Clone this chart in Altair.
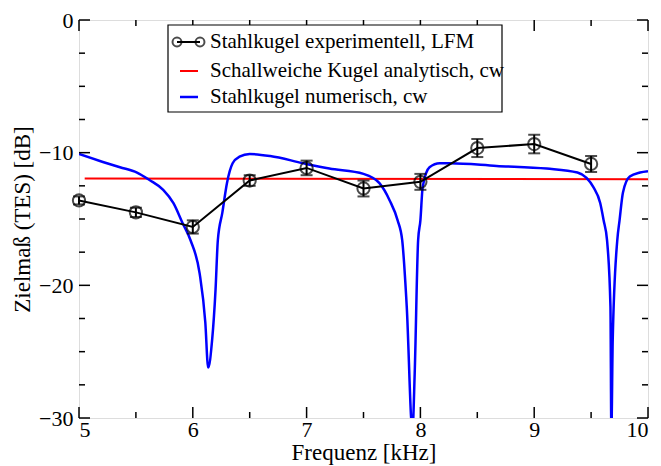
import altair as alt
import pandas as pd

# Experimental (LFM) data
exp_f = [5.0, 5.5, 6.0, 6.5, 7.0, 7.5, 8.0, 8.5, 9.0, 9.5]
exp_tes = [-13.6, -14.5, -15.6, -12.1, -11.15, -12.7, -12.2, -9.65, -9.35, -10.85]
exp_err = [0.3, 0.35, 0.5, 0.4, 0.55, 0.6, 0.6, 0.68, 0.7, 0.6]

# Analytic soft sphere
red_f = [5.05, 10.0]
red_tes = [-11.95, -12.0]

# Numeric steel sphere
blue_f = [5.0, 5.21, 5.36, 5.51, 5.62, 5.74, 5.83, 5.91, 5.98, 6.06, 6.11, 6.135,
          6.17, 6.2, 6.22, 6.26, 6.3, 6.35, 6.41, 6.5, 6.68, 6.97, 7.2, 7.5, 7.64,
          7.73, 7.8, 7.84, 7.88, 7.93, 7.95, 7.98, 8.0, 8.02, 8.08, 8.17, 8.26,
          8.67, 9.11, 9.38, 9.46, 9.52, 9.58, 9.61, 9.64, 9.67, 9.678, 9.69, 9.73,
          9.75, 9.78, 9.84, 9.93, 10.0]
blue_tes = [-10.1, -10.7, -11.1, -11.5, -12.06, -12.8, -13.8, -15.3, -16.6, -19.1, -22.8, -26.2,
            -24.1, -20.3, -16.6, -14.5, -12.3, -10.8, -10.3, -10.1, -10.25, -10.8, -11.2, -11.6, -12.3,
            -13.6, -15.1, -16.6, -21.6, -31.0, -26.6, -16.6, -15.1, -12.6, -11.1, -10.8, -10.8,
            -11.0, -11.2, -11.5, -11.9, -12.6, -13.8, -15.1, -16.6, -21.6, -31.0, -24.1, -16.6,
            -15.1, -13.0, -11.8, -11.5, -11.4]

x_major = [5, 6, 7, 8, 9, 10]
x_minor = [5.5, 6.5, 7.5, 8.5, 9.5]
y_major = [0, -10, -20, -30]
y_minor = [-2.5, -5, -7.5, -12.5, -15, -17.5, -22.5, -25, -27.5]

legend_labels = ["Stahlkugel experimentell, LFM",
                 "Schallweiche Kugel analytisch, cw",
                 "Stahlkugel numerisch, cw"]

W, H = 569, 398
FONT = "Liberation Serif"

xs = alt.Scale(domain=[5, 10], nice=False, zero=False)
ys = alt.Scale(domain=[-30, 0], nice=False, zero=False)

exp_df = pd.DataFrame({"f": exp_f, "tes": exp_tes, "err": exp_err})
exp_df["lo"] = exp_df["tes"] - exp_df["err"]
exp_df["hi"] = exp_df["tes"] + exp_df["err"]
red_df = pd.DataFrame({"f": red_f, "tes": red_tes})
blue_df = pd.DataFrame({"f": blue_f, "tes": blue_tes})

xaxis = alt.Axis(values=x_major, format="d", ticks=False, domain=False, grid=False,
                 labelFont=FONT, labelFontSize=22, labelColor="black", labelPadding=1,
                 title="Frequenz [kHz]", titleFont=FONT, titleFontSize=23,
                 titleFontWeight="normal", titleColor="black", titlePadding=1)
yaxis = alt.Axis(values=y_major, format="d", ticks=False, domain=False, grid=False,
                 labelFont=FONT, labelFontSize=22, labelColor="black", labelPadding=6,
                 title="Zielmaß (TES) [dB]", titleFont=FONT, titleFontSize=23,
                 titleFontWeight="normal", titleColor="black", titlePadding=4)

red = alt.Chart(red_df).mark_line(color="#ff0000", strokeWidth=2).encode(
    x=alt.X("f:Q", scale=xs, axis=xaxis),
    y=alt.Y("tes:Q", scale=ys, axis=yaxis),
)
blue = alt.Chart(blue_df).mark_line(color="#0000ff", strokeWidth=2.5, clip=True,
                                    interpolate="monotone").encode(
    x=alt.X("f:Q", scale=xs), y=alt.Y("tes:Q", scale=ys))
exp_line = alt.Chart(exp_df).mark_line(color="black", strokeWidth=2).encode(
    x=alt.X("f:Q", scale=xs), y=alt.Y("tes:Q", scale=ys))
err_rule = alt.Chart(exp_df).mark_rule(color="black", strokeWidth=2).encode(
    x=alt.X("f:Q", scale=xs), y=alt.Y("lo:Q", scale=ys), y2="hi:Q")
cap_lo = alt.Chart(exp_df).mark_tick(color="black", thickness=2, size=12, orient="horizontal").encode(
    x=alt.X("f:Q", scale=xs), y=alt.Y("lo:Q", scale=ys))
cap_hi = alt.Chart(exp_df).mark_tick(color="black", thickness=2, size=12, orient="horizontal").encode(
    x=alt.X("f:Q", scale=xs), y=alt.Y("hi:Q", scale=ys))
pts = alt.Chart(exp_df).mark_point(shape="circle", size=150, filled=False, color="black",
                                   strokeWidth=2, clip=False).encode(
    x=alt.X("f:Q", scale=xs), y=alt.Y("tes:Q", scale=ys))

# Inward ticks on all four sides
xmaj = pd.DataFrame({"v": x_major})
xmin = pd.DataFrame({"v": x_minor})
ymaj = pd.DataFrame({"v": y_major})
ymin = pd.DataFrame({"v": y_minor})
tick_layers = []
for df, L in [(xmaj, 11), (xmin, 6)]:
    tick_layers.append(alt.Chart(df).mark_rule(color="black", strokeWidth=1.5).encode(
        x=alt.X("v:Q", scale=xs), y=alt.value(H), y2=alt.value(H - L)))
    tick_layers.append(alt.Chart(df).mark_rule(color="black", strokeWidth=1.5).encode(
        x=alt.X("v:Q", scale=xs), y=alt.value(0), y2=alt.value(L)))
for df, L in [(ymaj, 11), (ymin, 6)]:
    tick_layers.append(alt.Chart(df).mark_rule(color="black", strokeWidth=1.5).encode(
        y=alt.Y("v:Q", scale=ys), x=alt.value(0), x2=alt.value(L)))
    tick_layers.append(alt.Chart(df).mark_rule(color="black", strokeWidth=1.5).encode(
        y=alt.Y("v:Q", scale=ys), x=alt.value(W), x2=alt.value(W - L)))

# Legend (manual)
one = pd.DataFrame({"a": [0]})
leg_box = alt.Chart(one).mark_rect(fill="white", stroke="black", strokeWidth=1.2).encode(
    x=alt.value(89), x2=alt.value(423), y=alt.value(5), y2=alt.value(92))
leg_rows = [22, 51, 77]
leg_layers = [leg_box]
leg_layers.append(alt.Chart(one).mark_rule(color="black", strokeWidth=2).encode(
    x=alt.value(98), x2=alt.value(121), y=alt.value(leg_rows[0])))
leg_layers.append(alt.Chart(pd.DataFrame({"px": [98, 121]})).mark_point(
    shape="circle", size=80, filled=False, color="black", strokeWidth=2).encode(
    x=alt.X("px:Q", scale=None), y=alt.value(leg_rows[0])))
leg_layers.append(alt.Chart(one).mark_rule(color="#ff0000", strokeWidth=2).encode(
    x=alt.value(101), x2=alt.value(119), y=alt.value(leg_rows[1])))
leg_layers.append(alt.Chart(one).mark_rule(color="#0000ff", strokeWidth=2.5).encode(
    x=alt.value(101), x2=alt.value(119), y=alt.value(leg_rows[2])))
for lab, ry in zip(legend_labels, leg_rows):
    leg_layers.append(alt.Chart(pd.DataFrame({"t": [lab]})).mark_text(
        font=FONT, fontSize=21, align="left", baseline="middle", color="black").encode(
        text="t:N", x=alt.value(131), y=alt.value(ry)))

chart = alt.layer(red, blue, exp_line, err_rule, cap_lo, cap_hi, pts,
                  *tick_layers, *leg_layers).properties(
    width=W, height=H,
    autosize=alt.AutoSizeParams(type="none"),
    padding={"left": 71, "top": 12, "right": 5, "bottom": 48},
).configure_view(stroke="black", strokeWidth=2).configure(background="white")

chart.save("out.html", embed_options={"renderer": "svg", "actions": False})
